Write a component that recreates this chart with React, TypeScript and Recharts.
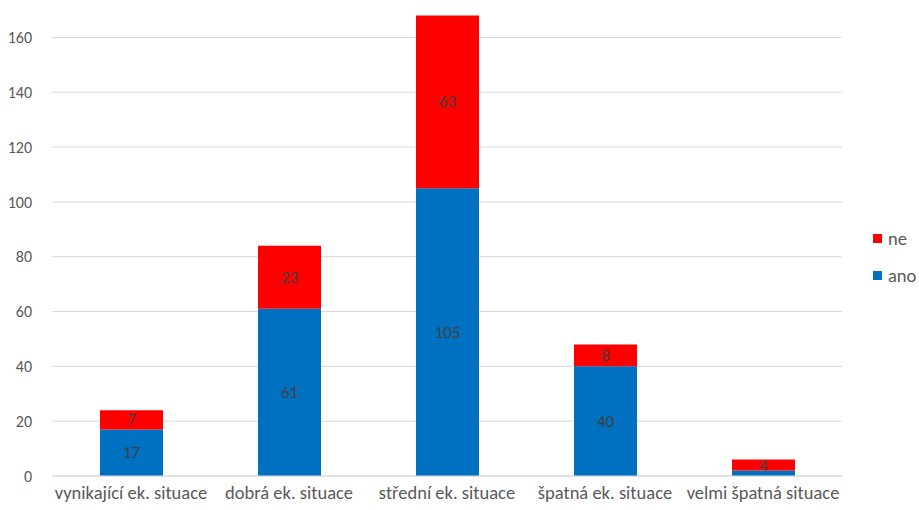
import React from 'react';
import { BarChart, Bar, XAxis, YAxis, CartesianGrid, LabelList } from 'recharts';

const categories = ['vynikající ek. situace', 'dobrá ek. situace', 'střední ek. situace', 'špatná ek. situace', 'velmi špatná situace'];
const anoValues = [17, 61, 105, 40, 2];
const neValues = [7, 23, 63, 8, 4];
const yTicks = [0, 20, 40, 60, 80, 100, 120, 140, 160];

const data = categories.map((c, i) => ({ name: c, ano: anoValues[i], ne: neValues[i] }));

const FONT = 'Carlito, Lato, "Open Sans", sans-serif';
const RED = '#FF0000';
const BLUE = '#0070C0';

const renderLabel = (props: any) => {
  const { x, y, width, height, value } = props;
  if (value < 3) return null;
  return (
    <text x={x + width / 2} y={y + height / 2} textAnchor="middle" dominantBaseline="central"
      fill="#404040" fontSize={17} fontFamily={FONT}>{value}</text>
  );
};

export default function App() {
  return (
    <div style={{ position: 'absolute', left: 0, top: 0, width: 919, height: 510, background: '#fff' }}>
      <BarChart width={919} height={510} data={data} margin={{ top: 10, right: 77, left: 0, bottom: 0 }} barSize={63}>
        <CartesianGrid vertical={false} stroke="#d9d9d9" horizontalValues={yTicks} syncWithTicks />
        <XAxis dataKey="name" axisLine={{ stroke: '#d9d9d9' }} tickLine={false} height={34}
          tick={{ fill: '#595959', fontSize: 18.5, fontFamily: FONT }} tickMargin={4} interval={0} />
        <YAxis domain={[0, 170]} ticks={yTicks} axisLine={false} tickLine={false} width={52}
          tick={{ fill: '#595959', fontSize: 16, fontFamily: FONT }} tickMargin={14} />
        <Bar dataKey="ano" stackId="a" fill={BLUE} isAnimationActive={false}>
          <LabelList dataKey="ano" content={renderLabel} />
        </Bar>
        <Bar dataKey="ne" stackId="a" fill={RED} isAnimationActive={false}>
          <LabelList dataKey="ne" content={renderLabel} />
        </Bar>
      </BarChart>
      <div style={{ position: 'absolute', left: 873, top: 227, fontFamily: FONT, fontSize: 18.5, color: '#595959' }}>
        {[{ n: 'ne', c: RED }, { n: 'ano', c: BLUE }].map((it, i) => (
          <div key={it.n} style={{ display: 'flex', alignItems: 'center', height: 22, marginBottom: i === 0 ? 15 : 0 }}>
            <span style={{ display: 'inline-block', width: 9, height: 9, background: it.c, marginRight: 6 }} />
            <span>{it.n}</span>
          </div>
        ))}
      </div>
    </div>
  );
}
